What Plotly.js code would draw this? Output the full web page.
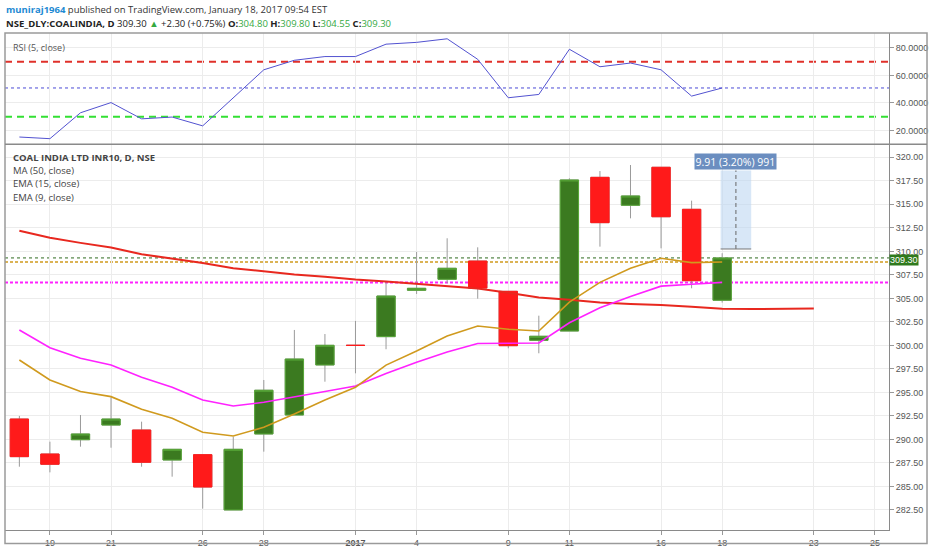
<!DOCTYPE html>
<html>
<head>
<meta charset="utf-8">
<script src="https://cdn.plot.ly/plotly-3.0.1.min.js"></script>
<style>html,body{margin:0;padding:0;background:#fff;}#chart{width:932px;height:550px;}</style>
</head>
<body>
<div id="chart"></div>
<script>
// ---- data ----
const days = ['2016-12-16','2016-12-19','2016-12-20','2016-12-21','2016-12-22','2016-12-23','2016-12-26','2016-12-27','2016-12-28','2016-12-29','2016-12-30','2017-01-02','2017-01-03','2017-01-04','2017-01-05','2017-01-06','2017-01-09','2017-01-10','2017-01-11','2017-01-12','2017-01-13','2017-01-16','2017-01-17','2017-01-18','2017-01-19','2017-01-20','2017-01-23','2017-01-24','2017-01-25','2017-01-26'];
const openP  = [292.17,288.45,289.97,291.53,291.00,287.81,288.38,282.50,290.58,292.60,297.92,300.00,300.93,305.86,307.03,308.97,305.75,300.54,301.53,317.87,314.90,318.94,314.47,304.80];
const highP  = [292.50,289.76,292.60,294.48,291.89,288.95,288.38,290.29,296.32,301.64,301.21,302.60,306.85,309.93,311.39,310.43,305.75,303.16,317.77,318.54,319.18,318.94,315.39,309.80];
const lowP   = [287.10,286.50,289.23,289.12,287.10,286.04,282.64,282.50,288.70,292.60,296.14,297.03,299.59,305.47,306.60,304.97,299.69,299.16,301.53,310.50,313.51,310.32,306.07,304.55];
const closeP = [288.17,287.36,290.58,292.17,287.57,288.95,284.94,288.95,295.23,298.55,300.01,300.00,305.25,306.07,308.20,306.10,299.97,300.97,317.59,313.05,315.89,313.68,306.88,309.30];
const ma50   = [312.20,311.45,310.90,310.40,309.70,309.25,308.75,308.20,307.85,307.55,307.30,307.00,306.80,306.55,306.30,306.05,305.60,305.10,304.85,304.55,304.40,304.30,304.10,303.90,303.87,303.88,303.92];
const ema15  = [301.64,299.76,298.63,297.92,296.61,295.55,294.20,293.56,293.95,294.50,295.10,295.68,297.00,298.20,299.30,300.20,300.20,300.25,302.40,304.00,305.20,306.30,306.50,306.70];
const ema9   = [298.45,296.32,295.10,294.55,293.20,292.25,290.76,290.37,291.29,292.70,294.20,295.55,297.90,299.40,301.00,302.06,301.71,301.53,304.60,306.70,308.20,309.26,308.80,308.87];
const rsi5   = [15.3,14.1,32.9,40.3,28.5,29.8,23.4,43.5,64.1,71.0,73.7,73.7,82.7,84.0,86.6,71.7,43.8,46.2,79.0,66.3,69.0,64.1,45.0,50.9];
const rsiLevels = [70, 30];
const tickDates  = ['2016-12-19','2016-12-21','2016-12-26','2016-12-28','2017-01-02','2017-01-04','2017-01-09','2017-01-11','2017-01-16','2017-01-18','2017-01-23','2017-01-25'];
const tickLabels = ['19','21','26','28','<b>2017</b>','4','9','11','16','18','23','25'];
const priceTicks = [282.5,285,287.5,290,292.5,295,297.5,300,302.5,305,307.5,310,312.5,315,317.5,320];
const rsiTicks = [20,40,60,80];
const measureLow = 310.25, measureHigh = 318.6, measureDay = '2017-01-18';
const measureText = '9.91 (3.20%) 991';

// ---- helpers ----
const idx = d => days.indexOf(d);
const xs = n => days.slice(0, n).map((d, i) => i);
const N = closeP.length;
const last = a => a[a.length - 1];

const GREEN = '#3b7a20', GREEN_EDGE = '#58a838', RED = '#ff1a1a';
const TXT = 'Open Sans, Noto Sans, sans-serif';
const TICK = 'Liberation Sans, Arial, sans-serif';

const traces = [
  // wicks
  {type:'candlestick', x: xs(N), open: openP, high: highP, low: lowP, close: closeP,
   increasing:{line:{color:'#9a9a9a', width:1}, fillcolor:'rgba(0,0,0,0)'},
   decreasing:{line:{color:'#9a9a9a', width:1}, fillcolor:'rgba(0,0,0,0)'},
   whiskerwidth:0, hoverinfo:'skip', xaxis:'x', yaxis:'y'},
  // bodies
  {type:'candlestick', x: xs(N), open: openP, close: closeP,
   high: openP.map((o,i)=>Math.max(o, closeP[i])), low: openP.map((o,i)=>Math.min(o, closeP[i])),
   increasing:{line:{color:GREEN_EDGE, width:1}, fillcolor:GREEN},
   decreasing:{line:{color:RED, width:1}, fillcolor:RED},
   whiskerwidth:0, hoverinfo:'skip', xaxis:'x', yaxis:'y'},
  {type:'scatter', mode:'lines', x: xs(ma50.length), y: ma50, line:{color:'#e8281f', width:2}, hoverinfo:'skip', xaxis:'x', yaxis:'y'},
  {type:'scatter', mode:'lines', x: xs(ema15.length), y: ema15, line:{color:'#ff22ff', width:1.6}, hoverinfo:'skip', xaxis:'x', yaxis:'y'},
  {type:'scatter', mode:'lines', x: xs(ema9.length), y: ema9, line:{color:'#d09a1e', width:1.6}, hoverinfo:'skip', xaxis:'x', yaxis:'y'},
  {type:'scatter', mode:'lines', x: xs(rsi5.length), y: rsi5, line:{color:'#5252d0', width:1}, hoverinfo:'skip', xaxis:'x', yaxis:'y2'}
];

const PANE = 0.776;
const hline = (y, yref, color, dash, width) => ({type:'line', xref:'paper', x0:0, x1:1, yref, y0:y, y1:y, line:{color, dash, width}, layer:'between'});
const mx = idx(measureDay);

const shapes = [
  {type:'rect', xref:'paper', yref:'paper', x0:0, x1:1.043, y0:-0.027, y1:1, line:{color:'#9a9a9a', width:1.5}, fillcolor:'rgba(0,0,0,0)'},
  {type:'line', xref:'paper', yref:'paper', x0:0, x1:1.043, y0:PANE, y1:PANE, line:{color:'#8a8a8a', width:1.5}},
  hline(rsiLevels[0], 'y2', '#e0302a', '7px,5px', 2),
  hline(rsiLevels[1], 'y2', '#33e033', '7px,5px', 2),
  hline(last(rsi5), 'y2', '#4b4bd6', 'dot', 1),
  hline(last(ema15), 'y', '#ff22ff', '3px,2px', 2),
  hline(last(ema9), 'y', '#d09a1e', '3px,2px', 1.5),
  hline(last(closeP), 'y', '#2e6b1f', 'dot', 1),
  {type:'rect', xref:'x', yref:'y', x0:mx-0.05, x1:mx+0.95, y0:measureLow, y1:measureHigh, line:{width:0}, fillcolor:'rgba(190,215,242,0.6)', layer:'between'},
  {type:'line', xref:'x', yref:'y', x0:mx+0.45, x1:mx+0.45, y0:measureLow, y1:measureHigh, line:{color:'#666', width:1, dash:'4px,3px'}},
  {type:'line', xref:'x', yref:'y', x0:mx-0.05, x1:mx+0.95, y0:measureLow, y1:measureLow, line:{color:'#777', width:1}}
];

const legY = [0.7505, 0.7233, 0.6962, 0.6694];
const legTxt = ['<b>COAL INDIA LTD INR10, D, NSE</b>', 'MA (50, close)', 'EMA (15, close)', 'EMA (9, close)'];
const G = '#35a93f';
const annotations = [
  {xref:'paper', yref:'paper', x:-0.001, y:1.047, xanchor:'left', yanchor:'middle', showarrow:false,
   text:'<span style="color:#1d8ad3"><b>muniraj1964</b></span> published on TradingView.com, January 18, 2017 09:54 EST',
   font:{family:TXT, size:9.5, color:'#333'}},
  {xref:'paper', yref:'paper', x:-0.001, y:1.019, xanchor:'left', yanchor:'middle', showarrow:false,
   text:'<b>NSE_DLY:COALINDIA, D</b> ' + last(closeP).toFixed(2) + ' <span style="color:'+G+'">▲</span> +2.30 (+0.75%) <b>O:</b><span style="color:'+G+'">' + last(openP).toFixed(2) + '</span> <b>H:</b><span style="color:'+G+'">' + last(highP).toFixed(2) + '</span> <b>L:</b><span style="color:'+G+'">' + last(lowP).toFixed(2) + '</span> <b>C:</b><span style="color:'+G+'">' + last(closeP).toFixed(2) + '</span>',
   font:{family:TXT, size:9.5, color:'#222'}},
  {xref:'paper', yref:'paper', x:0.007, y:0.971, xanchor:'left', yanchor:'middle', showarrow:false,
   text:'RSI (5, close)', font:{family:TXT, size:9, color:'#555'}},
  {xref:'paper', yref:'y', x:1, y:last(closeP), xanchor:'left', yanchor:'middle', showarrow:false, yshift:-2.5,
   text:last(closeP).toFixed(2), bgcolor:'#2f7a1d', borderpad:0, font:{family:TICK, size:9, color:'#fff'}},
  {xref:'x', yref:'y', x:mx+0.45, y:measureHigh, xanchor:'center', yanchor:'bottom', showarrow:false,
   text:measureText, bgcolor:'#6b8ec0', borderpad:0.5, font:{family:TXT, size:10.5, color:'#fff'}}
].concat(legTxt.map((t, i) => ({xref:'paper', yref:'paper', x:0.007, y:legY[i], xanchor:'left', yanchor:'middle', showarrow:false,
   text:t, font:{family:TXT, size:9.5, color:'#444'}})));

const axisCommon = {showgrid:true, gridcolor:'#ececec', gridwidth:1, zeroline:false, showline:true, linecolor:'#8a8a8a', linewidth:1,
  ticks:'outside', ticklen:4, tickcolor:'#999', tickfont:{family:TICK, size:9, color:'#555'}, fixedrange:true};

const layout = {
  width:932, height:550,
  margin:{l:5, r:43, t:33, b:20},
  paper_bgcolor:'#ffffff', plot_bgcolor:'#ffffff',
  showlegend:false, hovermode:false,
  boxmode:'overlay', boxgap:0.2, boxgroupgap:0.25,
  xaxis: Object.assign({}, axisCommon, {anchor:'y', range:[-0.47, 28.46],
    tickmode:'array', tickvals: tickDates.map(idx), ticktext: tickLabels, rangeslider:{visible:false}}),
  yaxis: Object.assign({}, axisCommon, {domain:[0, PANE], range:[280.37, 321.38], side:'right', anchor:'x',
    tickmode:'array', tickvals: priceTicks, ticktext: priceTicks.map(v => v.toFixed(2))}),
  yaxis2: Object.assign({}, axisCommon, {domain:[PANE, 1], range:[10, 90.8], side:'right', anchor:'x',
    tickmode:'array', tickvals: rsiTicks, ticktext: rsiTicks.map(v => v.toFixed(4))}),
  shapes, annotations
};

Plotly.newPlot('chart', traces, layout, {displayModeBar:false, staticPlot:true});
</script>
</body>
</html>
